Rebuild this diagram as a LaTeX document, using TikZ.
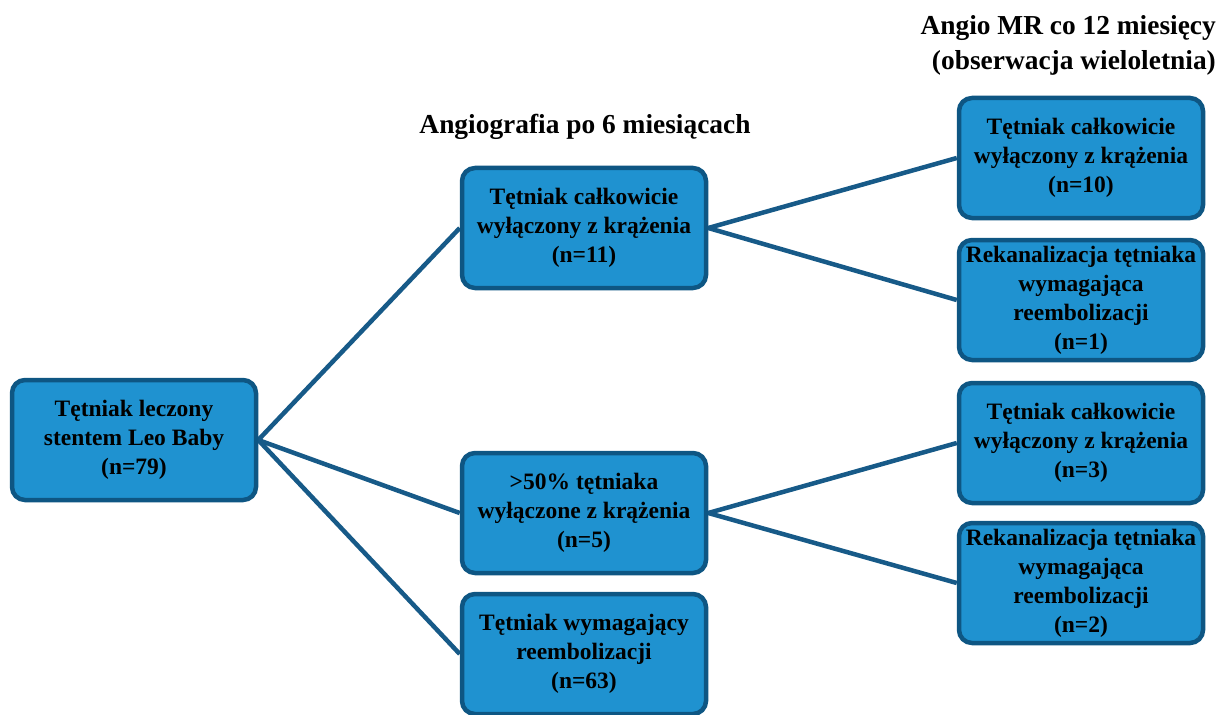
\documentclass[tikz,border=0pt]{standalone}
\usepackage{fontspec}
\setmainfont{Liberation Serif}
\pgfdeclarelayer{bg}
\pgfsetlayers{bg,main}
\begin{document}
\begin{tikzpicture}[x=1pt,y=-1pt,
  box/.style={draw=boxborder, line width=4.5pt, fill=boxfill, rounded corners=13pt,
    minimum width=244pt, minimum height=120pt, inner sep=0pt, align=center,
    font=\fontsize{23.5}{29}\selectfont\bfseries, text=black},
  link/.style={draw=linecol, line width=4.5pt},
  head/.style={font=\fontsize{27.4}{35}\selectfont\bfseries, text=black}]
\definecolor{boxfill}{HTML}{1F92D0}
\definecolor{boxborder}{HTML}{0E5683}
\definecolor{linecol}{HTML}{175A88}
\useasboundingbox (0,0) rectangle (1222,714);
\clip (0,0) rectangle (1222,714);
\node[box] (a) at (134,440) {Tętniak leczony\\stentem Leo Baby\\(n=79)};
\node[box] (b1) at (584,228) {Tętniak całkowicie\\wyłączony z krążenia\\(n=11)};
\node[box] (b2) at (584,513) {>50\% tętniaka\\wyłączone z krążenia\\(n=5)};
\node[box] (b3) at (584,654) {Tętniak wymagający\\reembolizacji\\(n=63)};
\node[box] (c1) at (1081,158) {Tętniak całkowicie\\wyłączony z krążenia\\(n=10)};
\node[box] (c2) at (1081,300) {Rekanalizacja tętniaka\\wymagająca\\reembolizacji\\(n=1)};
\node[box] (c3) at (1081,443) {Tętniak całkowicie\\wyłączony z krążenia\\(n=3)};
\node[box] (c4) at (1081,583) {Rekanalizacja tętniaka\\wymagająca\\reembolizacji\\(n=2)};
\node[head, align=center] (h1) at (585,127) {Angiografia po 6 miesiącach};
\node[head, align=right, anchor=east, inner sep=0pt] (h2) at (1216,45) {Angio MR co 12 miesięcy\\(obserwacja wieloletnia)};
\begin{pgfonlayer}{bg}
\path[link] (a.east) -- (b1.west);
\path[link] (a.east) -- (b2.west);
\path[link] (a.east) -- (b3.west);
\path[link] (b1.east) -- (c1.west);
\path[link] (b1.east) -- (c2.west);
\path[link] (b2.east) -- (c3.west);
\path[link] (b2.east) -- (c4.west);
\end{pgfonlayer}
\end{tikzpicture}
\end{document}
